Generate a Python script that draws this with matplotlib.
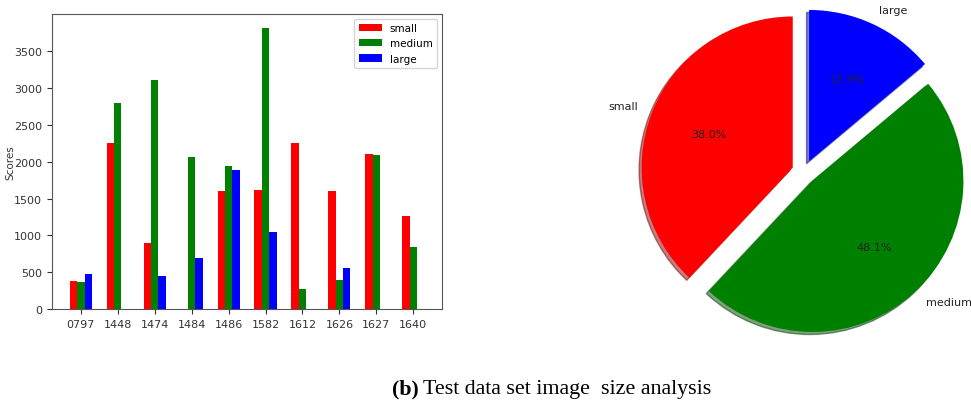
import matplotlib
matplotlib.use("Agg")
import matplotlib.pyplot as plt
import numpy as np

categories = ["0797", "1448", "1474", "1484", "1486", "1582", "1612", "1626", "1627", "1640"]
small = [385, 2253, 893, 0, 1605, 1623, 2253, 1605, 2103, 1260]
medium = [372, 2797, 3114, 2067, 1949, 3812, 267, 394, 2094, 839]
large = [471, 0, 444, 689, 1890, 1052, 0, 557, 0, 0]

pie_labels = ["small", "medium", "large"]
pie_values = [38.0, 48.1, 13.9]
colors = ["red", "green", "blue"]

fig = plt.figure(figsize=(9.71, 4.02), dpi=100)

# Bar chart
ax = fig.add_axes([0.0536, 0.2289, 0.4017, 0.734])
x = np.arange(len(categories))
w = 0.2
ax.bar(x - w, small, w, color=colors[0], label="small")
ax.bar(x, medium, w, color=colors[1], label="medium")
ax.bar(x + w, large, w, color=colors[2], label="large")
ax.set_xticks(x)
ax.set_xticklabels(categories)
ax.set_yticks([0, 500, 1000, 1500, 2000, 2500, 3000, 3500])
ax.set_ylim(0, 4010)
ax.tick_params(labelsize=8, colors="#333333")
ax.set_ylabel("Scores", fontsize=7.5, color="#333333")
ax.yaxis.set_label_coords(-0.093, 0.5)
for s in ax.spines.values():
    s.set_color("#555555")
ax.legend(loc="upper right", fontsize=7.5, handlelength=2.2)

# Pie chart
pax = fig.add_axes([0.649, 0.144, 0.358, 0.866])
pax.pie(pie_values, labels=pie_labels, colors=colors, autopct="%1.1f%%",
        startangle=90, explode=(0.08, 0.08, 0.08),
        shadow={"ox": -0.012, "oy": -0.012, "shade": 0.5},
        textprops={"fontsize": 8, "color": "#222222"})
pax.set_xlim(-1.15, 1.15)
pax.set_ylim(-1.13, 1.17)
pax.set_aspect("equal")

# Caption
yb = 1 - 394 / 402
fig.text(419 / 971, yb, "(b)", ha="right", va="baseline",
         fontsize=15.8, fontweight="bold", family="Liberation Serif")
fig.text(423 / 971, yb, "Test data set image  size analysis",
         ha="left", va="baseline", fontsize=15.8, family="Liberation Serif")

fig.savefig("out.png", dpi=100)
